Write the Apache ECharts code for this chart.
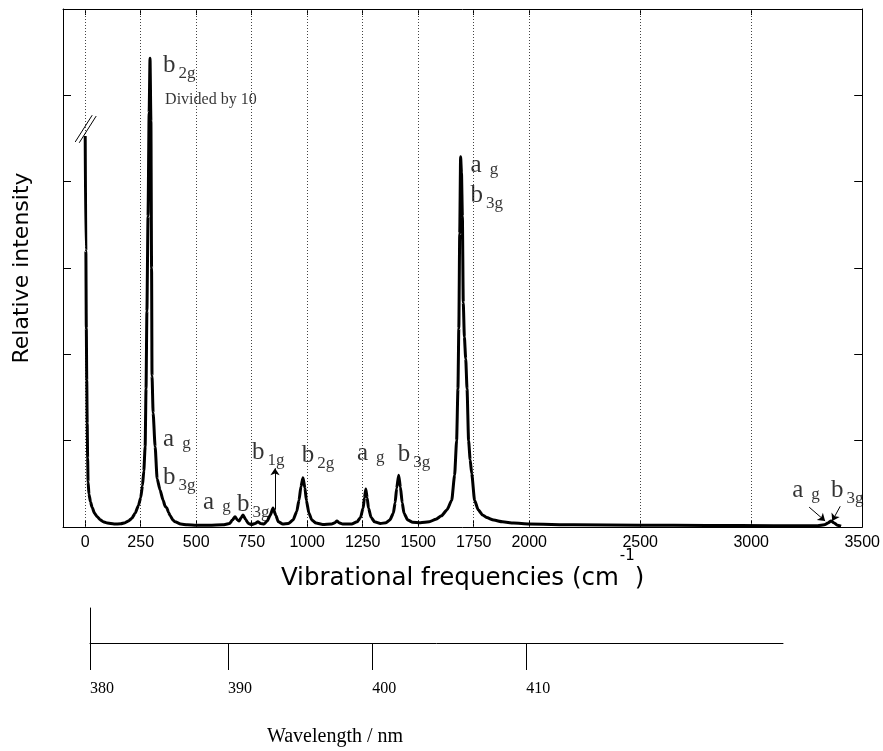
<!DOCTYPE html>
<html>
<head>
<meta charset="utf-8">
<script src="https://cdn.jsdelivr.net/npm/echarts@6/dist/echarts.min.js"></script>
<style>
html,body{margin:0;padding:0;background:#fff;}
#chart{width:883px;height:751px;}
</style>
</head>
<body>
<div id="chart"></div>
<script>
// ---- Spectrum (wavenumber in cm-1, relative intensity in tick units) ----
const wavenumbers = [0,3,5,7,9,11,13,17,24,31,42,54,67,81,100,130,160,180,195,210,225,240,250,258,264,270,274,278,283,288,292,296,299,301,306,315,324,337,351,360,368,375,383,395,405,430,460,500,560,620,650,663,675,686,693,703,711,722,735,750,765,778,790,805,820,834,846,858,870,890,915,936,953,963,972,981,990,996,1008,1021,1040,1070,1110,1125,1134,1143,1160,1200,1225,1240,1252,1258,1264,1270,1276,1288,1303,1330,1355,1372,1388,1396,1403,1412,1420,1428,1436,1453,1475,1510,1550,1580,1605,1630,1651,1664,1673,1679,1683,1687,1691,1695,1699,1703,1708,1714,1720,1727,1734,1741,1754,1770,1790,1808,1840,1880,1930,2000,2200,2500,2800,3100,3300,3330,3345,3360,3372,3388,3405];
const intensities = [4.53,3.2,2.3,1.7,1.2,0.8,0.52,0.38,0.29,0.23,0.16,0.12,0.085,0.06,0.045,0.035,0.037,0.05,0.07,0.1,0.16,0.25,0.34,0.48,0.65,0.93,1.6,2.5,3.6,4.8,5.43,4.7,3.0,1.75,1.32,0.93,0.56,0.43,0.31,0.24,0.22,0.17,0.13,0.08,0.06,0.035,0.025,0.02,0.02,0.025,0.04,0.08,0.12,0.08,0.07,0.11,0.14,0.09,0.04,0.03,0.04,0.06,0.04,0.035,0.07,0.14,0.22,0.14,0.06,0.035,0.04,0.08,0.18,0.31,0.47,0.57,0.45,0.31,0.16,0.08,0.045,0.03,0.035,0.05,0.07,0.05,0.035,0.035,0.06,0.11,0.22,0.34,0.44,0.34,0.22,0.11,0.06,0.04,0.05,0.08,0.16,0.28,0.45,0.6,0.46,0.28,0.16,0.08,0.055,0.05,0.06,0.09,0.13,0.2,0.31,0.6,1.0,1.6,2.3,3.4,4.29,4.1,3.6,2.6,2.2,1.95,1.6,1.0,0.78,0.62,0.31,0.2,0.14,0.11,0.08,0.06,0.045,0.035,0.025,0.02,0.018,0.015,0.015,0.025,0.045,0.07,0.05,0.02,0.01];

// ---- Axis ticks ----
const freqTicks = [0,250,500,750,1000,1250,1500,1750,2000,2500,3000,3500];
const gridFreqs = [0,250,500,750,1000,1250,1500,1750,2000,2500,3000];
const yTickCount = 6;
const wlLabels = ['380','390','400','410'];
const wlTickFreqs = [22,643,1291,1984];   // positions of wavelength ticks on the cm-1 scale
const wlAxisEnd = 3139;

// ---- Annotations ----
const annoMain  = ['b','a','b','a','b','b','b','a','b','a','b','a','b'];
const annoSub   = ['2g','g','3g','g','3g','1g','2g','g','3g','g','3g','g','3g'];
const annoFreq  = [351,351,351,531,684,751,976,1224,1408,1736,1736,3185,3360];
const annoLevel = [5.29,0.956,0.516,0.226,0.203,0.806,0.771,0.794,0.782,4.13,3.78,0.365,0.365];
const noteText = 'Divided by 10';
const notePos = [360, 4.95];
const arrows = [[[855,0.20],[855,0.68]], [[3261,0.23],[3333,0.07]], [[3401,0.24],[3365,0.07]]];
const breakMarks = [[[-45,4.46],[31.5,4.77]], [[-27,4.45],[49.5,4.76]]];

const SERIF = '"Liberation Serif","Times New Roman",serif';
const SANS = '"Liberation Sans",Arial,sans-serif';
const TITLE = '"DejaVu Sans",Verdana,sans-serif';

const chart = echarts.init(document.getElementById('chart'), null, {renderer:'canvas'});

const black = {color:'#000', width:1};
const spectrum = wavenumbers.map((f,i)=>[f,intensities[i]]);

const option = {
  animation:false,
  backgroundColor:'#fff',
  grid:[
    {left:63, right:20, top:9, bottom:224},
    {left:90, right:100, top:608, height:35}
  ],
  xAxis:[
    {gridIndex:0, type:'value', min:-100, max:3500, position:'bottom',
     axisLine:{show:true, onZero:false, lineStyle:black},
     axisTick:{show:true, inside:true, length:7, customValues:freqTicks, lineStyle:black},
     axisLabel:{show:true, customValues:freqTicks, color:'#000', fontFamily:SANS, fontSize:16, margin:8,
       formatter:(v)=>String(v)},
     splitLine:{show:false},
     name:'{t|Vibrational frequencies (cm}{s|-1}{t|)}',
     nameLocation:'middle', nameGap:40, nameMoveOverlap:false,
     nameTextStyle:{rich:{
       t:{fontFamily:TITLE, fontSize:24.5, color:'#000', lineHeight:24, verticalAlign:'bottom'},
       s:{fontFamily:TITLE, fontSize:15, color:'#000', lineHeight:15, verticalAlign:'bottom', padding:[0,0,27,1]}
     }}
    },
    {gridIndex:0, type:'value', min:-100, max:3500, position:'top',
     axisLine:{show:true, onZero:false, lineStyle:black},
     axisTick:{show:true, inside:true, length:6, customValues:freqTicks, lineStyle:black},
     axisLabel:{show:false}, splitLine:{show:false}
    },
    {gridIndex:1, type:'value', min:wlTickFreqs[0], max:wlAxisEnd, position:'bottom',
     axisLine:{show:true, onZero:false, lineStyle:black},
     axisTick:{show:true, inside:false, length:27, customValues:wlTickFreqs, lineStyle:black},
     axisLabel:{show:true, customValues:wlTickFreqs, align:'left', margin:38, color:'#000', fontFamily:SERIF, fontSize:16,
       formatter:(v)=>{ const i = wlTickFreqs.indexOf(v); return i>=0 ? wlLabels[i] : ''; }},
     splitLine:{show:false}
    }
  ],
  yAxis:[
    {gridIndex:0, type:'value', min:0, max:yTickCount, interval:1, position:'left',
     axisLine:{show:true, onZero:false, lineStyle:black},
     axisTick:{show:true, inside:true, length:8, lineStyle:black},
     axisLabel:{show:false}, splitLine:{show:false},
     name:'Relative intensity', nameLocation:'middle', nameGap:30, nameMoveOverlap:false,
     nameTextStyle:{fontFamily:TITLE, fontSize:22, color:'#000'}
    },
    {gridIndex:0, type:'value', min:0, max:yTickCount, interval:1, position:'right',
     axisLine:{show:true, onZero:false, lineStyle:black},
     axisTick:{show:true, inside:true, length:8, lineStyle:black},
     axisLabel:{show:false}, splitLine:{show:false}
    },
    {gridIndex:1, type:'value', min:0, max:1, position:'left',
     axisLine:{show:true, onZero:false, lineStyle:black},
     axisTick:{show:false}, axisLabel:{show:false}, splitLine:{show:false}
    }
  ],
  series:[
    {type:'line', xAxisIndex:0, yAxisIndex:0, data:[], silent:true, z:1,
     markLine:{silent:true, symbol:'none', label:{show:false}, z:1,
       lineStyle:{color:'#444', width:1, type:[1,2]},
       data: gridFreqs.map(f=>({xAxis:f}))}
    },
    {type:'line', xAxisIndex:0, yAxisIndex:0, data:spectrum, showSymbol:false, silent:true, z:3,
     smooth:0.2, smoothMonotone:'x',
     lineStyle:{color:'#000', width:3}, itemStyle:{color:'#000'}
    },
    {type:'line', xAxisIndex:0, yAxisIndex:0, data:[], silent:true, z:4,
     markLine:{silent:true, symbol:['none','arrow'], symbolSize:7, label:{show:false},
       lineStyle:{color:'#000', width:1, type:'solid'},
       data: arrows.map(a=>[{coord:a[0]},{coord:a[1]}])}
    },
    {type:'line', xAxisIndex:0, yAxisIndex:0, data:[], silent:true, z:4,
     markLine:{silent:true, symbol:'none', label:{show:false},
       lineStyle:{color:'#000', width:1, type:'solid'},
       data: breakMarks.map(a=>[{coord:a[0]},{coord:a[1]}])}
    },
    {type:'scatter', xAxisIndex:0, yAxisIndex:0, silent:true, z:5, symbolSize:0,
     data: annoFreq.map((f,i)=>[f, annoLevel[i]]),
     label:{show:true, position:'right', distance:0,
       formatter:(p)=>{
         const i = p.dataIndex;
         return annoSub[i]==='g' ? '{m|'+annoMain[i]+'}{g|'+annoSub[i]+'}' : '{m|'+annoMain[i]+'}{s|'+annoSub[i]+'}';
       },
       rich:{
         m:{fontFamily:SERIF, fontSize:25, color:'#000', lineHeight:25, verticalAlign:'bottom', padding:[0,0,5,0]},
         s:{fontFamily:SERIF, fontSize:17, color:'#000', lineHeight:17, verticalAlign:'bottom', padding:[0,0,1,3]},
         g:{fontFamily:SERIF, fontSize:17, color:'#000', lineHeight:17, verticalAlign:'bottom', padding:[0,0,5,8]}
       }
     }
    },
    {type:'scatter', xAxisIndex:0, yAxisIndex:0, silent:true, z:5, symbolSize:0,
     data:[notePos],
     label:{show:true, position:'right', distance:0, formatter:noteText,
       fontFamily:SERIF, fontSize:16, color:'#000'}
    }
  ],
  graphic:[
    {type:'text', x:335, y:737, style:{text:'Wavelength / nm', font:'20px '+SERIF, fill:'#000', align:'center', verticalAlign:'middle'}}
  ]
};
chart.setOption(option);
</script>
</body>
</html>
